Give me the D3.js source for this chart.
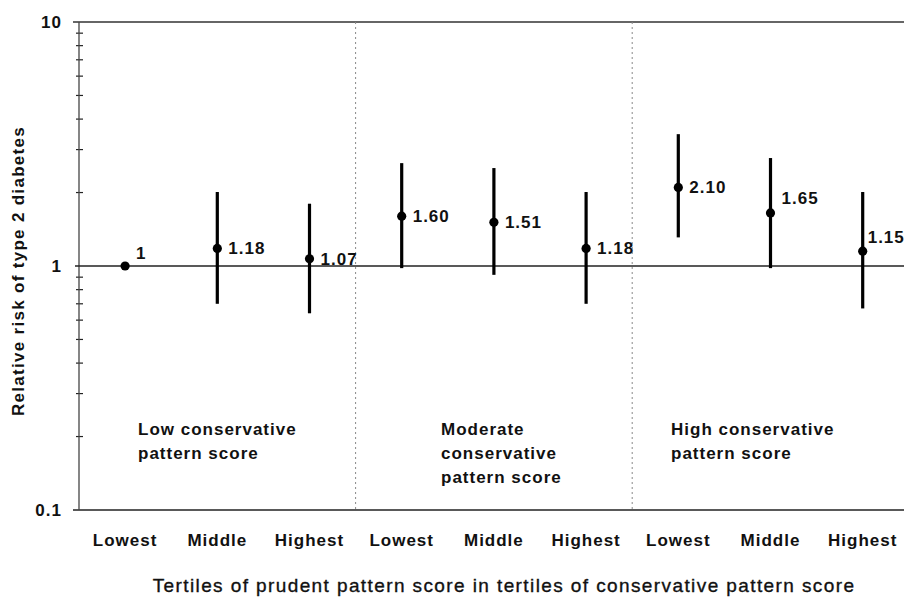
<!DOCTYPE html>
<html>
<head>
<meta charset="utf-8">
<title>Relative risk of type 2 diabetes</title>
<style>
  body { margin: 0; background: #fff; }
  text { font-family: Arial, "Liberation Sans", sans-serif; fill: #111; }
  .bold { font-weight: bold; font-size: 17px; letter-spacing: 1px; }
</style>
</head>
<body>
<script src="https://d3js.org/d3.v7.min.js"></script>
<script>
// data
const tertiles = ["Lowest", "Middle", "Highest"];
const groupNames = [
  ["Low conservative", "pattern score"],
  ["Moderate", "conservative", "pattern score"],
  ["High conservative", "pattern score"]
];
const rr = [1, 1.18, 1.07, 1.60, 1.51, 1.18, 2.10, 1.65, 1.15];
const rrLabels = ["1", "1.18", "1.07", "1.60", "1.51", "1.18", "2.10", "1.65", "1.15"];
const ciLow = [null, 0.70, 0.64, 0.98, 0.92, 0.70, 1.31, 0.98, 0.67];
const ciHigh = [null, 2.01, 1.80, 2.64, 2.52, 2.01, 3.47, 2.77, 2.01];
const yTicks = [0.1, 1, 10];

let width = 904;
let height = 598;
let mLeft = 79, mTop = 22, mBottom = 510;

let svg = d3.select("body").append("svg")
  .attr("width", width)
  .attr("height", height);

// one slot per tertile within each group
let cats = d3.range(9);
let x = d3.scaleBand()
  .domain(cats)
  .range([mLeft, mLeft + 9 * 92.2]);

let y = d3.scaleLog()
  .domain([0.1, 10])
  .range([mBottom, mTop]);

// minor ticks of log axis
let minor = [];
[0.1, 1].forEach(dec => {
  for (let k = 2; k <= 9; k++) minor.push(dec * k);
});
svg.selectAll(".minor")
  .data(minor)
  .enter()
  .append("line")
  .attr("x1", mLeft - 3)
  .attr("x2", mLeft + 4)
  .attr("y1", d => y(d))
  .attr("y2", d => y(d))
  .attr("stroke", "#222")
  .attr("stroke-width", 1.2);

// frame lines
svg.append("line")
  .attr("x1", mLeft - 6).attr("x2", width)
  .attr("y1", y(10)).attr("y2", y(10))
  .attr("stroke", "#333").attr("stroke-width", 1.3);
svg.append("line")
  .attr("x1", mLeft - 6).attr("x2", width)
  .attr("y1", y(0.1)).attr("y2", y(0.1))
  .attr("stroke", "#222").attr("stroke-width", 1.5);
svg.append("line")
  .attr("x1", mLeft).attr("x2", mLeft)
  .attr("y1", y(10)).attr("y2", y(0.1))
  .attr("stroke", "#444").attr("stroke-width", 1.3);

// reference line at RR = 1
svg.append("line")
  .attr("x1", mLeft - 4).attr("x2", width)
  .attr("y1", y(1)).attr("y2", y(1))
  .attr("stroke", "#222").attr("stroke-width", 1.3);

// dotted separators between groups
svg.selectAll(".sep")
  .data([3, 6])
  .enter()
  .append("line")
  .attr("class", "sep")
  .attr("x1", d => x(d))
  .attr("x2", d => x(d))
  .attr("y1", y(10))
  .attr("y2", y(0.1))
  .attr("stroke", "#888")
  .attr("stroke-width", 1)
  .attr("stroke-dasharray", "2,3");

// y tick labels
svg.selectAll(".ytick")
  .data(yTicks)
  .enter()
  .append("text")
  .attr("class", "bold")
  .attr("x", 62)
  .attr("y", d => y(d))
  .attr("dy", "0.35em")
  .attr("text-anchor", "end")
  .text(d => d);

// y title
svg.append("text")
  .attr("class", "bold")
  .attr("transform", "translate(24,271) rotate(-90)")
  .attr("text-anchor", "middle")
  .style("letter-spacing", "1.3px")
  .text("Relative risk of type 2 diabetes");

// error bars
let pts = cats.map(i => ({i: i, rr: rr[i], lo: ciLow[i], hi: ciHigh[i], label: rrLabels[i]}));
let cx = d => x(d.i) + x.bandwidth() / 2;

svg.selectAll(".ci")
  .data(pts.filter(d => d.lo != null))
  .enter()
  .append("line")
  .attr("x1", cx).attr("x2", cx)
  .attr("y1", d => y(d.lo))
  .attr("y2", d => y(d.hi))
  .attr("stroke", "#000")
  .attr("stroke-width", 3.2);

svg.selectAll(".dot")
  .data(pts)
  .enter()
  .append("circle")
  .attr("cx", cx)
  .attr("cy", d => y(d.rr))
  .attr("r", 4.6)
  .attr("fill", "#000");

// labels that sit on a bar get nudged up
let lift = {0: -13, 7: -15, 8: -14};
let shift = {8: -6};
svg.selectAll(".val")
  .data(pts)
  .enter()
  .append("text")
  .attr("class", "bold")
  .attr("x", d => cx(d) + 11 + (shift[d.i] || 0))
  .attr("y", d => y(d.rr) + (lift[d.i] || 0))
  .attr("dy", "0.35em")
  .text(d => d.label);

// category labels
svg.selectAll(".cat")
  .data(cats)
  .enter()
  .append("text")
  .attr("class", "bold")
  .attr("x", d => x(d) + x.bandwidth() / 2)
  .attr("y", 546)
  .attr("text-anchor", "middle")
  .text(d => tertiles[d % 3]);

// group annotations
let groupX = [138, 441, 671];
groupNames.forEach((lines, g) => {
  let t = svg.append("text")
    .attr("class", "bold")
    .attr("x", groupX[g])
    .attr("y", 435);
  lines.forEach((ln, k) => {
    t.append("tspan")
      .attr("x", groupX[g])
      .attr("dy", k === 0 ? 0 : 24)
      .text(ln);
  });
});

// x title
svg.append("text")
  .attr("x", 504)
  .attr("y", 592)
  .attr("text-anchor", "middle")
  .style("font-size", "19px")
  .style("letter-spacing", "1.4px")
  .style("stroke", "#111")
  .style("stroke-width", 0.35)
  .text("Tertiles of prudent pattern score in tertiles of conservative pattern score");
</script>
</body>
</html>
